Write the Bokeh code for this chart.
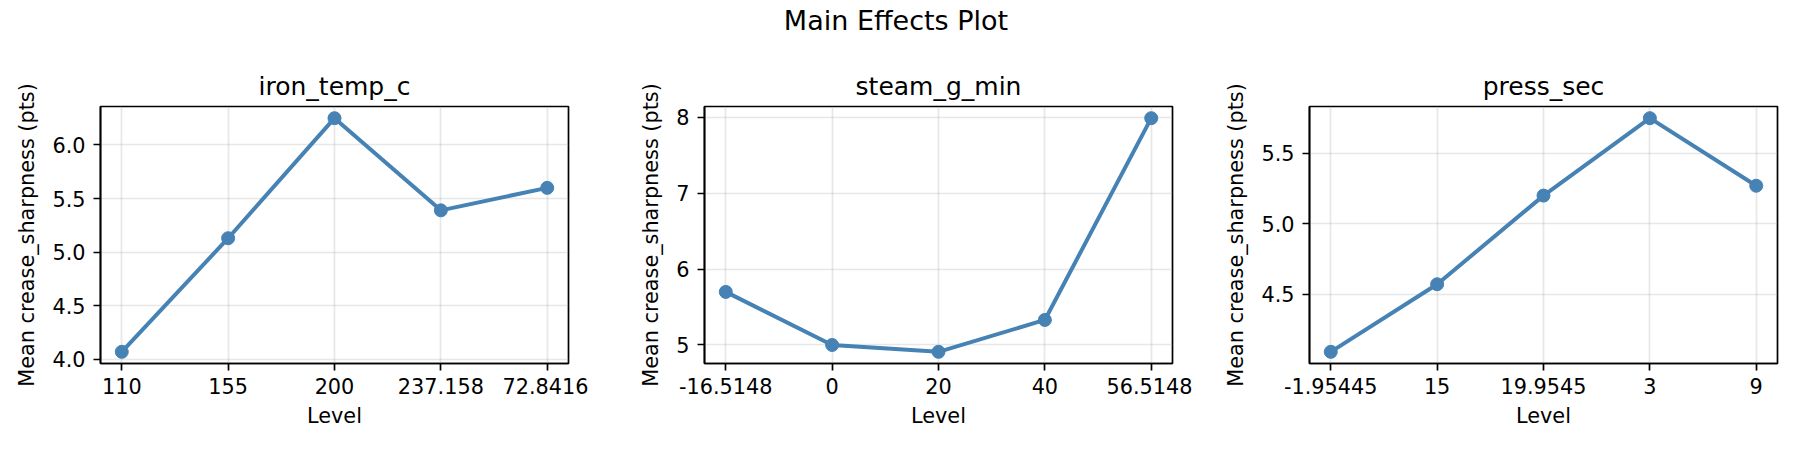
from bokeh.plotting import figure
from bokeh.models import Div, SingleIntervalTicker, FixedTicker, NumeralTickFormatter
from bokeh.layouts import row, column
from bokeh.embed import file_html
from bokeh.resources import INLINE

# factor levels and their mean response, one list per factor
factors = ["iron_temp_c", "steam_g_min", "press_sec"]
levels_iron = ["110", "155", "200", "237.158", "72.8416"]
means_iron = [4.07, 5.13, 6.25, 5.39, 5.60]
levels_steam = ["-16.5148", "0", "20", "40", "56.5148"]
means_steam = [5.70, 5.00, 4.91, 5.33, 7.99]
levels_press = ["-1.95445", "15", "19.9545", "3", "9"]
means_press = [4.09, 4.57, 5.20, 5.75, 5.27]

y_step = [0.5, 1, 0.5]
y_fmt = ["0.0", "0", "0.0"]

FONT = "DejaVu Sans"
COLOR = "#4682B4"


def effect_plot(name, levels, means, step, fmt, left, right):
    p = figure(frame_width=468, frame_height=257, title=name,
               min_border_left=left, min_border_right=right,
               min_border_top=68, min_border_bottom=79,
               toolbar_location=None, tools="", output_backend="svg")
    xs = list(range(len(levels)))
    p.line(xs, means, line_color=COLOR, line_width=4)
    p.scatter(xs, means, size=13, fill_color=COLOR, line_color=COLOR)

    p.title.text_font = FONT
    p.title.text_font_size = "25px"
    p.title.text_font_style = "normal"
    p.title.text_color = "black"
    p.title.align = "center"
    p.title.standoff = 12

    p.xaxis.ticker = FixedTicker(ticks=xs)
    p.xaxis.major_label_overrides = {i: lab for i, lab in enumerate(levels)}
    p.yaxis.ticker = SingleIntervalTicker(interval=step)
    p.yaxis.formatter = NumeralTickFormatter(format=fmt)
    p.xaxis.axis_label = "Level"
    p.yaxis.axis_label = "Mean crease_sharpness (pts)"

    for ax in (p.xaxis, p.yaxis):
        ax.axis_label_text_font = FONT
        ax.axis_label_text_font_size = "20.8px"
        ax.axis_label_text_font_style = "normal"
        ax.axis_label_text_color = "black"
        ax.axis_label_standoff = 10
        ax.major_label_text_font = FONT
        ax.major_label_text_font_size = "20.8px"
        ax.major_label_text_color = "black"
        ax.major_label_standoff = 7
        ax.major_tick_out = 7
        ax.major_tick_in = 0
        ax.minor_tick_out = 0
        ax.minor_tick_in = 0
        ax.major_tick_line_width = 1.7
        ax.major_tick_line_color = "black"
        ax.axis_line_color = "black"
        ax.axis_line_width = 1.7
    p.yaxis.major_label_standoff = 8
    p.xaxis.axis_label_standoff = 7

    p.grid.grid_line_color = "#b0b0b0"
    p.grid.grid_line_alpha = 0.3
    p.grid.grid_line_width = 1.7
    p.outline_line_color = "black"
    p.outline_line_width = 1.7
    p.outline_line_alpha = 1
    return p


p1 = effect_plot(factors[0], levels_iron, means_iron, y_step[0], y_fmt[0], 100, 20)
p2 = effect_plot(factors[1], levels_steam, means_steam, y_step[1], y_fmt[1], 116, 20)
p3 = effect_plot(factors[2], levels_press, means_press, y_step[2], y_fmt[2], 117, 7)

title = Div(text='<div style="text-align:center;font-family:DejaVu Sans;font-size:27px;'
                 'line-height:27px;padding-top:7px;color:black;width:1792px">Main Effects Plot</div>',
            width=1792, height=38, margin=0)

layout = column(title, row(p1, p2, p3, spacing=0), spacing=0)
open("out.html", "w").write(file_html(layout, INLINE))
